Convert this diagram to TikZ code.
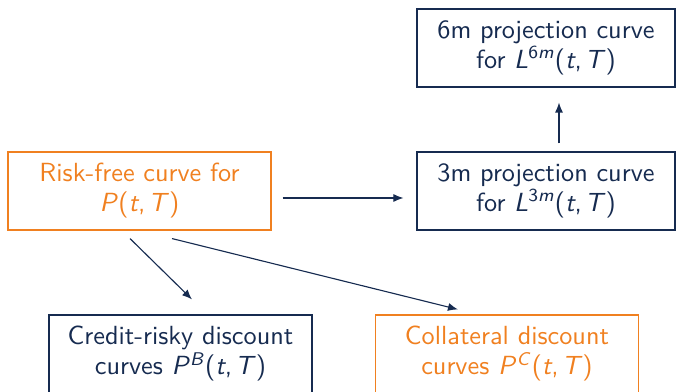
\documentclass[tikz,border=0pt]{standalone}
\usetikzlibrary{arrows.meta}
\definecolor{navy}{RGB}{22,43,80}
\definecolor{orng}{RGB}{240,128,32}
\newcommand\mi[1]{\textit{#1}}
\newcommand\tT{(\mi{t},\kern1.2pt\mi{T})}
\begin{document}
\begin{tikzpicture}[x=0.4pt,y=-0.4pt,
  box/.style={draw=navy,text=navy,line width=0.45pt,minimum width=105.2pt,minimum height=31.2pt,align=center,inner sep=0pt,font=\sffamily\fontsize{10.5}{12}\selectfont},
  obox/.style={box,draw=orng,text=orng},
  arr/.style={draw=navy,line width=0.45pt,-{Latex[length=4pt,width=3.2pt]}}]
\useasboundingbox (0,0) rectangle (676,392);
\node[obox] (rf) at (139.5,191) {Risk-free curve for\\\mi{P}\tT};
\node[box,minimum width=103.2pt] (m6) at (546,48) {6m projection curve\\for \mi{L}\textsuperscript{6\mi{m}}\tT};
\node[box,minimum width=103.2pt] (m3) at (546,191) {3m projection curve\\for \mi{L}\textsuperscript{3\mi{m}}\tT};
\node[box] (cr) at (180.5,354) {Credit-risky discount\\curves \mi{P}\textsuperscript{\mi{B}}\tT};
\node[obox] (co) at (507,354) {Collateral discount\\curves \mi{P}\textsuperscript{\mi{C}}\tT};
\draw[arr] ([shift={(11,7)}]rf.east) -- ([shift={(-13,7)}]m3.west);
\draw[arr] ([shift={(13,-8)}]m3.north) -- ([shift={(13,15)}]m6.south);
\draw[arr] ([shift={(-9.5,8)}]rf.south) -- ([shift={(11.5,-15)}]cr.north);
\draw[arr] ([shift={(32.5,8)}]rf.south) -- ([shift={(-49,-5)}]co.north);
\end{tikzpicture}
\end{document}
